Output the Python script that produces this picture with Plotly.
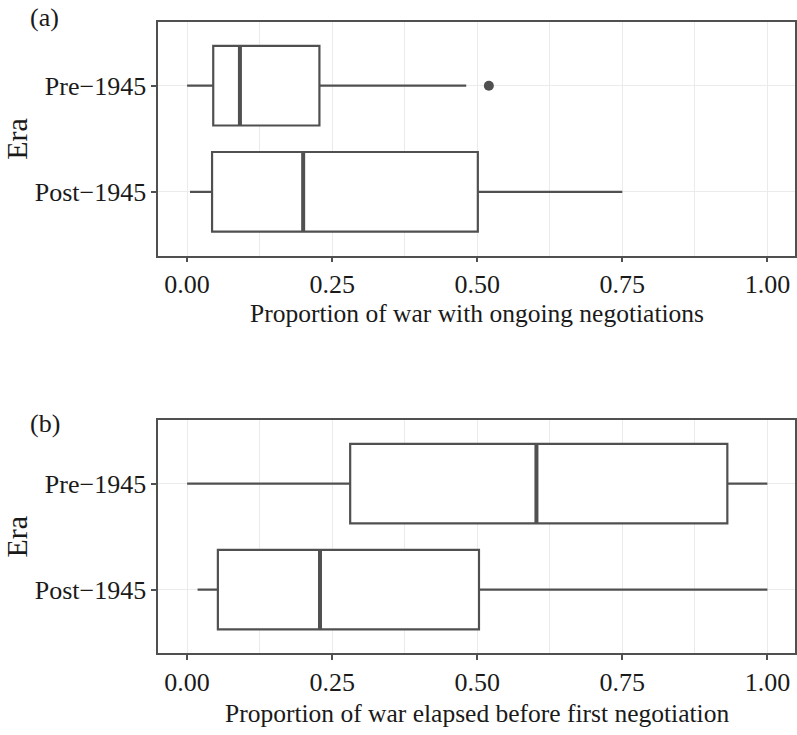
import plotly.graph_objects as go

# ---- data ----
eras = ["Post\u22121945", "Pre\u22121945"]
era_pos = [1, 2]

# panel (a): proportion of war with ongoing negotiations
a_low = [0.005, 0.0]
a_q1 = [0.043, 0.045]
a_med = [0.200, 0.091]
a_q3 = [0.501, 0.228]
a_high = [0.750, 0.481]
a_outlier_era = [2]
a_outlier_val = [0.520]

# panel (b): proportion of war elapsed before first negotiation
b_low = [0.018, 0.0]
b_q1 = [0.053, 0.281]
b_med = [0.229, 0.602]
b_q3 = [0.503, 0.931]
b_high = [1.0, 1.0]

x_ticks = [0, 0.25, 0.5, 0.75, 1.0]
x_ticktext = ["0.00", "0.25", "0.50", "0.75", "1.00"]

titles = ["Proportion of war with ongoing negotiations",
          "Proportion of war elapsed before first negotiation"]
panel_tags = ["(a)", "(b)"]

# ---- style ----
W, H = 797, 735
FONT = "Liberation Serif"
LINE = "#505050"
GRID = "#EBEBEB"
TXT = "#1a1a1a"
BOXW = 0.75

fig = go.Figure()

def add_panel(low, q1, med, q3, high, xa, ya):
    for i in range(len(eras)):
        fig.add_trace(go.Box(
            y=[era_pos[i]], q1=[q1[i]], median=[med[i]], q3=[q3[i]],
            lowerfence=[low[i]], upperfence=[high[i]],
            orientation="h", width=BOXW, whiskerwidth=0,
            fillcolor="white", line=dict(color=LINE, width=2.2),
            boxpoints=False, xaxis=xa, yaxis=ya, showlegend=False,
            hoverinfo="skip"))
        # thick median line
        fig.add_trace(go.Scatter(
            x=[med[i], med[i]],
            y=[era_pos[i] - BOXW / 2, era_pos[i] + BOXW / 2],
            mode="lines", line=dict(color=LINE, width=4),
            xaxis=xa, yaxis=ya, showlegend=False, hoverinfo="skip"))

add_panel(a_low, a_q1, a_med, a_q3, a_high, "x", "y")
fig.add_trace(go.Scatter(x=a_outlier_val, y=a_outlier_era, mode="markers",
                         marker=dict(color=LINE, size=10),
                         xaxis="x", yaxis="y", showlegend=False))
add_panel(b_low, b_q1, b_med, b_q3, b_high, "x2", "y2")

x_dom = [158.5 / W, 1.0]
ya_dom = [1 - 255.5 / H, 1 - 22 / H]
yb_dom = [1 - 653.3 / H, 1 - 420 / H]

def xaxis(anchor):
    return dict(domain=x_dom, anchor=anchor, range=[-0.05, 1.0476],
                tickvals=x_ticks, ticktext=x_ticktext,
                ticks="outside", ticklen=5, tickwidth=1.5, tickcolor=LINE,
                showgrid=True, gridcolor=GRID, gridwidth=1.3,
                minor=dict(tick0=0.125, dtick=0.25, showgrid=True,
                           gridcolor=GRID, gridwidth=0.8),
                showline=True, linecolor=LINE, linewidth=1.5, mirror=True,
                zeroline=False,
                tickfont=dict(family=FONT, size=26, color=TXT))

def yaxis(anchor, dom):
    return dict(domain=dom, anchor=anchor, range=[0.4, 2.6],
                tickvals=era_pos, ticktext=eras,
                ticks="outside", ticklen=5, tickwidth=1.5, tickcolor=LINE,
                showgrid=True, gridcolor=GRID, gridwidth=1.3,
                showline=True, linecolor=LINE, linewidth=1.5, mirror=True,
                zeroline=False,
                tickfont=dict(family=FONT, size=26, color=TXT))

annotations = []
for k, (dom, tb) in enumerate([(ya_dom, 314), (yb_dom, 713)]):
    annotations.append(dict(text=titles[k], xref="paper", yref="paper",
                            x=(158.5 + 797) / 2 / W, y=1 - tb / H,
                            xanchor="center", yanchor="middle", showarrow=False,
                            font=dict(family=FONT, size=25.5, color=TXT)))
    annotations.append(dict(text="Era", xref="paper", yref="paper",
                            x=17 / W, y=(dom[0] + dom[1]) / 2, textangle=-90,
                            xanchor="center", yanchor="middle", showarrow=False,
                            font=dict(family=FONT, size=30, color=TXT)))
for k, yc in enumerate([18, 423]):
    annotations.append(dict(text=panel_tags[k], xref="paper", yref="paper",
                            x=28 / W, y=1 - yc / H,
                            xanchor="left", yanchor="middle", showarrow=False,
                            font=dict(family=FONT, size=26, color=TXT)))

fig.update_layout(
    width=W, height=H,
    margin=dict(l=0, r=0, t=0, b=0),
    paper_bgcolor="white", plot_bgcolor="white",
    xaxis=xaxis("y"), yaxis=yaxis("x", ya_dom),
    xaxis2=xaxis("y2"), yaxis2=yaxis("x2", yb_dom),
    annotations=annotations,
    showlegend=False,
)

fig.write_html("out.html",
               config={"displayModeBar": False},
               post_script="document.body.style.margin='0';"
                           "document.body.style.overflow='hidden';")
